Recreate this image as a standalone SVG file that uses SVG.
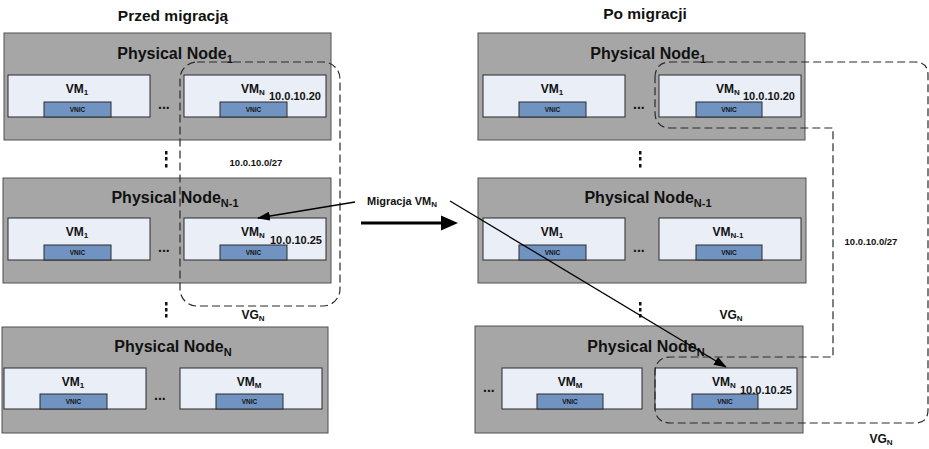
<svg xmlns="http://www.w3.org/2000/svg" width="929" height="449" viewBox="0 0 929 449">
<style>
text{font-family:"Liberation Sans",Arial,sans-serif;font-weight:bold;fill:#111}
.node{fill:#a6a6a6;stroke:#505050;stroke-width:1}
.vm{fill:#e9eef7;stroke:#2a2a2a;stroke-width:1}
.nic{fill:#7193c1;stroke:#2a2a2a;stroke-width:1}
.ttl{font-size:16px;text-anchor:middle}
.sub16{font-size:11px}
.vml{font-size:12px;text-anchor:middle}
.sub12{font-size:8px}
.nict{font-size:6.5px;text-anchor:middle}
.ip{font-size:11px}
.net{font-size:9.5px;text-anchor:middle}
.head{font-size:15.5px;text-anchor:middle}
.dots{font-size:14px}
.dash{fill:none;stroke:#2a2a2a;stroke-width:1.2;stroke-dasharray:8 4}
.arr{stroke:#000;stroke-width:1.3;fill:none}
.vd{fill:#111}
</style>
<defs>
<marker id="ah" markerWidth="13" markerHeight="9" refX="12" refY="4.5" orient="auto" markerUnits="userSpaceOnUse"><path d="M0,0 L13,4.5 L0,9 Z" fill="#000"/></marker>
</defs>

<text class="head" x="173" y="21">Przed migracją</text>
<text class="head" x="645" y="19">Po migracji</text>

<!-- Left column -->
<g id="left-node1" transform="translate(4,33)">
<rect class="node" x="0" y="0" width="327" height="107"/>
<text class="ttl" x="171" y="26">Physical Node<tspan class="sub16" dy="4">1</tspan></text>
<rect class="vm" x="4" y="42" width="142" height="42"/>
<text class="vml" x="73" y="60">VM<tspan class="sub12" dy="2">1</tspan></text>
<rect class="nic" x="40" y="69" width="67" height="15"/>
<text class="nict" x="73.5" y="79">VNIC</text>
<text class="dots" x="154" y="76">...</text>
<rect class="vm" x="180" y="42" width="142" height="42"/>
<text class="vml" x="249" y="60">VM<tspan class="sub12" dy="2">N</tspan></text>
<rect class="nic" x="216" y="69" width="67" height="15"/>
<text class="nict" x="249.5" y="79">VNIC</text>
<text class="ip" x="265" y="67">10.0.10.20</text>
</g>

<g id="left-nodeN-1" transform="translate(3,178)">
<rect class="node" x="0" y="0" width="328" height="105"/>
<text class="ttl" x="172" y="25">Physical Node<tspan class="sub16" dy="4">N-1</tspan></text>
<rect class="vm" x="5" y="40" width="142" height="42"/>
<text class="vml" x="74" y="58">VM<tspan class="sub12" dy="2">1</tspan></text>
<rect class="nic" x="41" y="67" width="67" height="15"/>
<text class="nict" x="74.5" y="77">VNIC</text>
<text class="dots" x="155" y="74">...</text>
<rect class="vm" x="181" y="40" width="142" height="42"/>
<text class="vml" x="250" y="58">VM<tspan class="sub12" dy="2">N</tspan></text>
<rect class="nic" x="217" y="67" width="67" height="15"/>
<text class="nict" x="250.5" y="77">VNIC</text>
<text class="ip" x="267" y="66">10.0.10.25</text>
</g>

<g id="left-nodeN" transform="translate(2,327)">
<rect class="node" x="0" y="0" width="326" height="106"/>
<text class="ttl" x="171" y="25">Physical Node<tspan class="sub16" dy="4">N</tspan></text>
<rect class="vm" x="2" y="41" width="142" height="41"/>
<text class="vml" x="71" y="59">VM<tspan class="sub12" dy="2">1</tspan></text>
<rect class="nic" x="38" y="67" width="67" height="15"/>
<text class="nict" x="71.5" y="77">VNIC</text>
<text class="dots" x="152" y="73">...</text>
<rect class="vm" x="178" y="41" width="142" height="41"/>
<text class="vml" x="247" y="59">VM<tspan class="sub12" dy="2">M</tspan></text>
<rect class="nic" x="214" y="67" width="67" height="15"/>
<text class="nict" x="247.5" y="77">VNIC</text>
</g>

<!-- Right column -->
<g id="right-node1" transform="translate(478,33)">
<rect class="node" x="0" y="0" width="327" height="107"/>
<text class="ttl" x="170" y="26">Physical Node<tspan class="sub16" dy="4">1</tspan></text>
<rect class="vm" x="5" y="42" width="142" height="42"/>
<text class="vml" x="74" y="60">VM<tspan class="sub12" dy="2">1</tspan></text>
<rect class="nic" x="41" y="69" width="67" height="15"/>
<text class="nict" x="74.5" y="79">VNIC</text>
<text class="dots" x="155" y="76">...</text>
<rect class="vm" x="181" y="42" width="142" height="42"/>
<text class="vml" x="250" y="60">VM<tspan class="sub12" dy="2">N</tspan></text>
<rect class="nic" x="218" y="69" width="66" height="15"/>
<text class="nict" x="251" y="79">VNIC</text>
<text class="ip" x="265" y="67">10.0.10.20</text>
</g>

<g id="right-nodeN-1" transform="translate(478,178)">
<rect class="node" x="0" y="0" width="328" height="105"/>
<text class="ttl" x="170" y="25">Physical Node<tspan class="sub16" dy="4">N-1</tspan></text>
<rect class="vm" x="5" y="40" width="142" height="42"/>
<text class="vml" x="74" y="58">VM<tspan class="sub12" dy="2">1</tspan></text>
<rect class="nic" x="41" y="67" width="67" height="15"/>
<text class="nict" x="74.5" y="77">VNIC</text>
<text class="dots" x="155" y="74">...</text>
<rect class="vm" x="181" y="40" width="142" height="42"/>
<text class="vml" x="250" y="58">VM<tspan class="sub12" dy="2">N-1</tspan></text>
<rect class="nic" x="218" y="67" width="66" height="15"/>
<text class="nict" x="251" y="77">VNIC</text>
</g>

<g id="right-nodeN" transform="translate(475,326)">
<rect class="node" x="0" y="0" width="328" height="107"/>
<text class="ttl" x="171" y="26">Physical Node<tspan class="sub16" dy="4">N</tspan></text>
<text class="dots" x="8" y="66">...</text>
<rect class="vm" x="27" y="42" width="140" height="41"/>
<text class="vml" x="95" y="60">VM<tspan class="sub12" dy="2">M</tspan></text>
<rect class="nic" x="62" y="68" width="66" height="15"/>
<text class="nict" x="95" y="78">VNIC</text>
<rect class="vm" x="180" y="42" width="142" height="41"/>
<text class="vml" x="249" y="60">VM<tspan class="sub12" dy="2">N</tspan></text>
<rect class="nic" x="217" y="68" width="66" height="15"/>
<text class="nict" x="250" y="78">VNIC</text>
<text class="ip" x="265" y="68">10.0.10.25</text>
</g>

<!-- vertical ellipses -->
<g id="vdots">
<rect class="vd" x="165" y="151" width="2.5" height="3.5"/>
<rect class="vd" x="165" y="157" width="2.5" height="3.5"/>
<rect class="vd" x="165" y="164" width="2.5" height="3.5"/>
<rect class="vd" x="165" y="302" width="2.5" height="3.5"/>
<rect class="vd" x="165" y="308" width="2.5" height="3.5"/>
<rect class="vd" x="165" y="314" width="2.5" height="3.5"/>
<rect class="vd" x="639" y="151" width="2.5" height="3.5"/>
<rect class="vd" x="639" y="157" width="2.5" height="3.5"/>
<rect class="vd" x="639" y="164" width="2.5" height="3.5"/>
<rect class="vd" x="639" y="302" width="2.5" height="3.5"/>
<rect class="vd" x="639" y="308" width="2.5" height="3.5"/>
<rect class="vd" x="639" y="314" width="2.5" height="3.5"/>
</g>

<!-- virtual groups -->
<g id="vg-left">
<rect class="dash" x="180" y="62" width="160" height="244" rx="17" ry="17"/>
<text class="net" x="256" y="166">10.0.10.0/27</text>
<text class="vml" x="253" y="319">VG<tspan class="sub12" dy="2">N</tspan></text>
</g>
<g id="vg-right">
<path class="dash" d="M655,78 Q655,62 671,62 H915 Q928,62 928,75 V410 Q928,423 915,423 H671 Q655,423 655,407 V373 Q655,357 671,357 H833 V128 H671 Q655,128 655,112 Z"/>
<text class="net" x="871" y="245">10.0.10.0/27</text>
<text class="vml" x="731" y="319">VG<tspan class="sub12" dy="2">N</tspan></text>
<text class="vml" x="881" y="443">VG<tspan class="sub12" dy="2">N</tspan></text>
</g>

<!-- connectors -->
<g id="connectors">
<line class="arr" x1="355" y1="202" x2="258" y2="218" marker-end="url(#ah)"/>
<line class="arr" x1="450" y1="201" x2="726" y2="367" marker-end="url(#ah)"/>
<line x1="361" y1="223" x2="443" y2="223" stroke="#000" stroke-width="3"/>
<polygon points="441,215.5 458,223 441,230.5" fill="#000"/>
<text x="367" y="205" style="font-size:11px">Migracja VM<tspan class="sub12" dy="2">N</tspan></text>
</g>
</svg>
